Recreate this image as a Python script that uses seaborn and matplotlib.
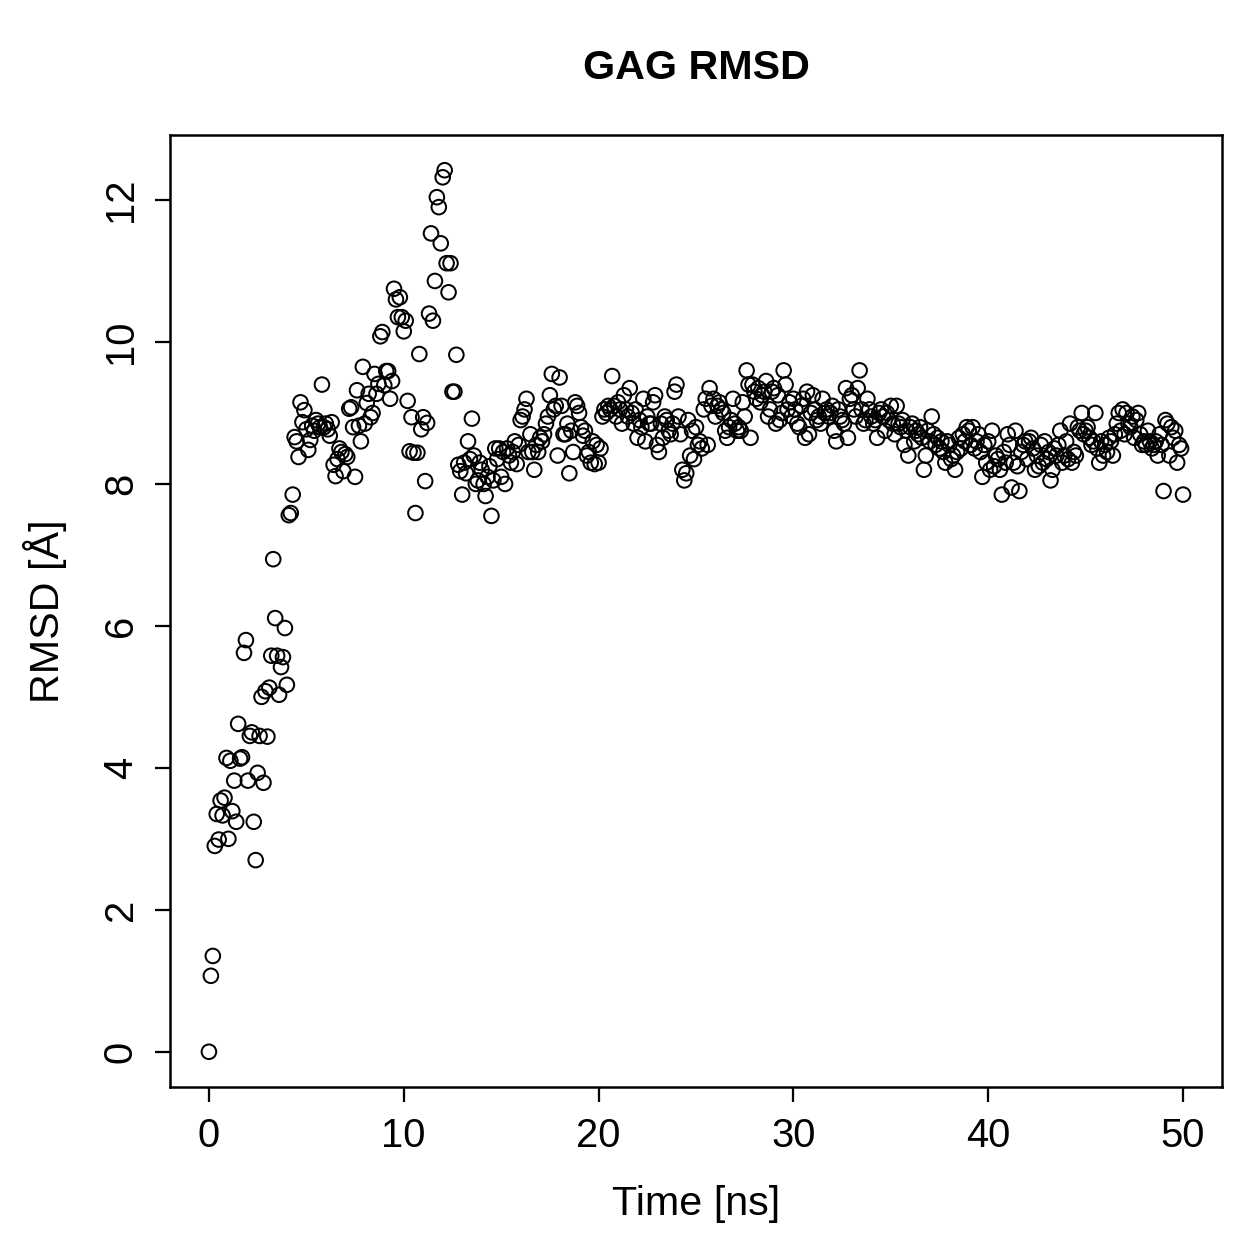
import numpy as np
import pandas as pd
import matplotlib
matplotlib.use("Agg")
import matplotlib.pyplot as plt
import seaborn as sb

# time in ns, one frame every 0.1 ns
time_ns = [round(i * 0.1, 1) for i in range(501)]

# RMSD values, 1 ns per row
rmsd = [
    0.00, 1.07, 1.35, 2.90, 3.35, 2.99, 3.54, 3.33, 3.58, 4.14,
    3.00, 4.10, 3.39, 3.82, 3.24, 4.62, 4.13, 4.15, 5.62, 5.80,
    3.82, 4.45, 4.50, 3.24, 2.70, 3.93, 4.45, 5.00, 3.79, 5.08,
    4.44, 5.13, 5.58, 6.94, 6.11, 5.58, 5.03, 5.42, 5.56, 5.97,
    5.17, 7.56, 7.59, 7.85, 8.66, 8.60, 8.38, 9.15, 8.87, 9.04,
    8.77, 8.48, 8.62, 8.82, 8.75, 8.90, 8.85, 8.80, 9.40, 8.80,
    8.85, 8.77, 8.68, 8.87, 8.27, 8.11, 8.35, 8.50, 8.45, 8.18,
    8.42, 8.38, 9.06, 9.08, 8.80, 8.10, 9.32, 8.82, 8.60, 9.65,
    8.85, 9.14, 9.27, 8.94, 9.00, 9.55, 9.27, 9.41, 10.08, 10.14,
    9.39, 9.59, 9.59, 9.20, 9.45, 10.75, 10.60, 10.35, 10.63, 10.35,
    10.15, 10.30, 9.17, 8.46, 8.94, 8.44, 7.59, 8.44, 9.83, 8.77,
    8.94, 8.04, 8.86, 10.40, 11.53, 10.30, 10.86, 12.04, 11.90, 11.39,
    12.32, 12.42, 11.11, 10.70, 11.11, 9.30, 9.30, 9.82, 8.27, 8.18,
    7.85, 8.30, 8.15, 8.60, 8.35, 8.92, 8.40, 8.00, 8.05, 8.30,
    8.20, 8.00, 7.83, 8.10, 8.25, 7.55, 8.05, 8.50, 8.35, 8.50,
    8.10, 8.45, 8.00, 8.50, 8.40, 8.30, 8.45, 8.60, 8.28, 8.55,
    8.90, 8.95, 9.05, 9.20, 8.45, 8.70, 8.45, 8.20, 8.55, 8.45,
    8.65, 8.60, 8.70, 8.85, 8.95, 9.25, 9.55, 9.05, 9.10, 8.40,
    9.50, 9.10, 8.70, 8.70, 8.85, 8.15, 8.75, 8.45, 9.15, 9.10,
    9.00, 8.80, 8.68, 8.75, 8.40, 8.45, 8.30, 8.60, 8.28, 8.55,
    8.30, 8.50, 8.95, 9.05, 9.00, 9.10, 9.05, 9.52, 9.10, 8.95,
    9.15, 9.05, 8.85, 9.25, 9.05, 8.95, 9.35, 9.00, 8.85, 9.05,
    8.65, 8.90, 8.80, 9.20, 8.60, 8.95, 8.85, 8.85, 9.15, 9.25,
    8.55, 8.45, 8.85, 8.65, 8.95, 8.90, 8.75, 8.70, 8.85, 9.30,
    9.40, 8.95, 8.70, 8.20, 8.05, 8.15, 8.90, 8.40, 8.75, 8.35,
    8.80, 8.55, 8.60, 8.50, 9.05, 9.20, 8.55, 9.35, 9.10, 9.20,
    8.95, 9.10, 9.15, 9.05, 9.00, 8.75, 8.65, 8.80, 8.90, 9.20,
    8.85, 8.75, 8.80, 8.75, 9.15, 8.95, 9.60, 9.40, 8.65, 9.40,
    9.30, 9.20, 9.35, 9.15, 9.25, 9.30, 9.45, 8.95, 9.05, 9.30,
    9.35, 8.85, 9.25, 8.90, 9.00, 9.60, 9.40, 9.05, 9.15, 8.95,
    9.20, 9.05, 8.85, 8.80, 9.10, 9.20, 8.65, 9.30, 8.70, 9.00,
    9.25, 9.05, 8.90, 8.95, 8.85, 9.20, 9.00, 9.05, 8.95, 9.00,
    9.10, 8.75, 8.60, 9.05, 8.95, 8.90, 8.85, 9.35, 8.65, 9.20,
    9.25, 9.05, 8.95, 9.35, 9.60, 9.05, 8.85, 8.90, 9.20, 9.05,
    8.95, 8.85, 8.90, 8.65, 9.00, 9.05, 8.95, 8.75, 9.00, 8.90,
    9.10, 8.85, 8.70, 9.10, 8.85, 8.80, 8.90, 8.55, 8.75, 8.40,
    8.80, 8.85, 8.60, 8.75, 8.70, 8.80, 8.65, 8.20, 8.40, 8.75,
    8.60, 8.95, 8.70, 8.55, 8.65, 8.50, 8.60, 8.45, 8.30, 8.60,
    8.55, 8.35, 8.40, 8.20, 8.45, 8.65, 8.50, 8.70, 8.60, 8.80,
    8.75, 8.55, 8.80, 8.50, 8.60, 8.70, 8.45, 8.10, 8.55, 8.30,
    8.60, 8.20, 8.75, 8.25, 8.40, 8.35, 8.20, 7.85, 8.45, 8.30,
    8.70, 8.55, 7.95, 8.30, 8.75, 8.25, 7.90, 8.45, 8.55, 8.60,
    8.35, 8.60, 8.65, 8.50, 8.20, 8.40, 8.25, 8.55, 8.30, 8.60,
    8.35, 8.45, 8.05, 8.20, 8.50, 8.40, 8.55, 8.75, 8.30, 8.40,
    8.60, 8.35, 8.85, 8.30, 8.45, 8.40, 8.80, 8.75, 9.00, 8.70,
    8.75, 8.80, 8.65, 8.55, 8.60, 9.00, 8.50, 8.30, 8.60, 8.40,
    8.55, 8.45, 8.65, 8.60, 8.40, 8.70, 8.85, 9.00, 8.75, 9.05,
    8.70, 9.00, 8.85, 8.80, 8.95, 8.65, 8.90, 9.00, 8.70, 8.55,
    8.60, 8.55, 8.75, 8.60, 8.50, 8.55, 8.60, 8.40, 8.70, 8.55,
    7.90, 8.90, 8.85, 8.40, 8.80, 8.65, 8.75, 8.30, 8.55, 8.50,
    7.85,
]

xticks = [0, 10, 20, 30, 40, 50]
yticks = [0, 2, 4, 6, 8, 10, 12]

df = pd.DataFrame({"time": time_ns, "rmsd": rmsd})

sb.set_style("ticks")
plt.rcParams["font.family"] = ["Liberation Sans", "DejaVu Sans"]

fig = plt.figure(figsize=(1259 / 180, 1259 / 180), dpi=180)
ax = fig.add_axes([0.135, 0.1366, 0.8356, 0.7562])

sb.scatterplot(data=df, x="time", y="rmsd", ax=ax, marker="o", s=34,
               facecolor="none", edgecolor="black", linewidth=0.8)

# R-style 4% padding
xr = max(time_ns) - min(time_ns)
yr = max(rmsd) - min(rmsd)
ax.set_xlim(min(time_ns) - 0.04 * xr, max(time_ns) + 0.04 * xr)
ax.set_ylim(min(rmsd) - 0.04 * yr, max(rmsd) + 0.04 * yr)

ax.set_xticks(xticks)
ax.set_yticks(yticks)
ax.set_yticklabels([str(t) for t in yticks], rotation=90, va="center")
ax.tick_params(axis="both", labelsize=16, length=6, width=0.9, direction="out",
               color="black", labelcolor="black")
ax.tick_params(axis="x", pad=6)
ax.tick_params(axis="y", pad=6)
for s in ax.spines.values():
    s.set_visible(True)
    s.set_linewidth(1.0)
    s.set_color("black")

ax.set_xlabel("Time [ns]", fontsize=16.5, labelpad=12, color="black")
ax.set_ylabel("RMSD [Å]", fontsize=16.5, labelpad=14, color="black")
fig.text(0.553, 0.946, "GAG RMSD", ha="center", va="center",
         fontsize=16.5, fontweight="bold", color="black")

plt.savefig("out.png", dpi=180)
